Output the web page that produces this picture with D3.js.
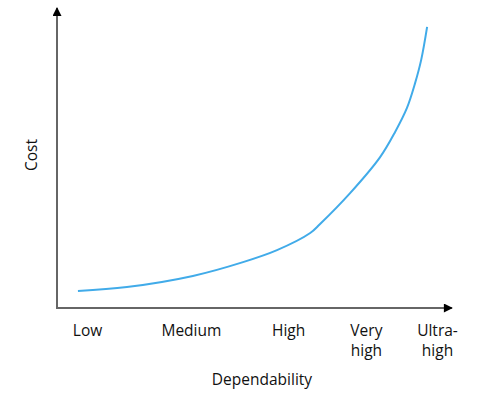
<!DOCTYPE html>
<html>
<head>
<meta charset="utf-8">
<script src="https://cdn.jsdelivr.net/npm/d3@7"></script>
<style>
  body { margin: 0; background: #fff; }
  text { font-family: "Open Sans", sans-serif; fill: #111; }
</style>
</head>
<body>
<div id="chart"></div>
<script>
// dependability levels on the x axis (position in a 0-100 index)
var levels = [["Low"], ["Medium"], ["High"], ["Very", "high"], ["Ultra-", "high"]];
var levelPos = [7.6, 33.9, 58.5, 78.2, 96.2];

// cost curve
var depValues = [5.3, 17.7, 34.4, 47.1, 55.7, 64.1, 66.6, 74.2, 81.8, 85.6, 88.6, 90.6, 92.2, 93.7];
var costValues = [5.7, 7.0, 10.7, 15.3, 19.3, 25.0, 28.0, 38.3, 50.3, 58.7, 66.7, 74.7, 82.7, 93.7];

var width = 496, height = 394;
var margin = {top: 8, right: 44, bottom: 86, left: 57};

var svg = d3.select("#chart")
  .append("svg")
    .attr("width", width)
    .attr("height", height);

var x = d3.scaleLinear()
    .domain([0, 100])
    .range([margin.left, width - margin.right]);

var y = d3.scaleLinear()
    .domain([0, 100])
    .range([height - margin.bottom, margin.top]);

var defs = svg.append("defs");
defs.append("marker")
    .attr("id", "arrow")
    .attr("viewBox", "0 0 10 10")
    .attr("refX", 9)
    .attr("refY", 5)
    .attr("markerWidth", 12)
    .attr("markerHeight", 9)
    .attr("markerUnits", "userSpaceOnUse")
    .attr("orient", "auto")
  .append("path")
    .attr("d", "M0,0L10,5L0,10z")
    .attr("fill", "#000");

// axes lines with arrow heads
svg.append("line")
    .attr("x1", x(0)).attr("y1", y(0))
    .attr("x2", x(0)).attr("y2", y(100))
    .attr("stroke", "#666")
    .attr("stroke-width", 2)
    .attr("marker-end", "url(#arrow)");

svg.append("line")
    .attr("x1", x(0) - 1).attr("y1", y(0))
    .attr("x2", x(100)).attr("y2", y(0))
    .attr("stroke", "#666")
    .attr("stroke-width", 2)
    .attr("marker-end", "url(#arrow)");

// x tick labels
var xAxis = svg.append("g")
    .attr("transform", "translate(0," + y(0) + ")")
    .call(d3.axisBottom(x).tickValues(levelPos).tickSize(0).tickFormat(""));
xAxis.select(".domain").remove();

xAxis.selectAll(".tick").each(function(d, i) {
  var t = d3.select(this).append("text")
      .attr("text-anchor", "middle")
      .attr("y", 28)
      .style("font-size", "15.5px");
  levels[i].forEach(function(s, j) {
    t.append("tspan")
        .attr("x", 0)
        .attr("dy", j === 0 ? 0 : 20)
        .text(s);
  });
});

// curve
var line = d3.line()
    .x(function(d, i) { return x(depValues[i]); })
    .y(function(d, i) { return y(costValues[i]); })
    .curve(d3.curveCatmullRom.alpha(0.5));

svg.append("path")
    .datum(costValues)
    .attr("d", line)
    .attr("fill", "none")
    .attr("stroke", "#41abe9")
    .attr("stroke-width", 2);

// axis titles
svg.append("text")
    .attr("x", 262)
    .attr("y", 385)
    .attr("text-anchor", "middle")
    .style("font-size", "15.5px")
    .text("Dependability");

svg.append("text")
    .attr("transform", "translate(37,155) rotate(-90)")
    .attr("text-anchor", "middle")
    .style("font-size", "15.5px")
    .text("Cost");
</script>
</body>
</html>
